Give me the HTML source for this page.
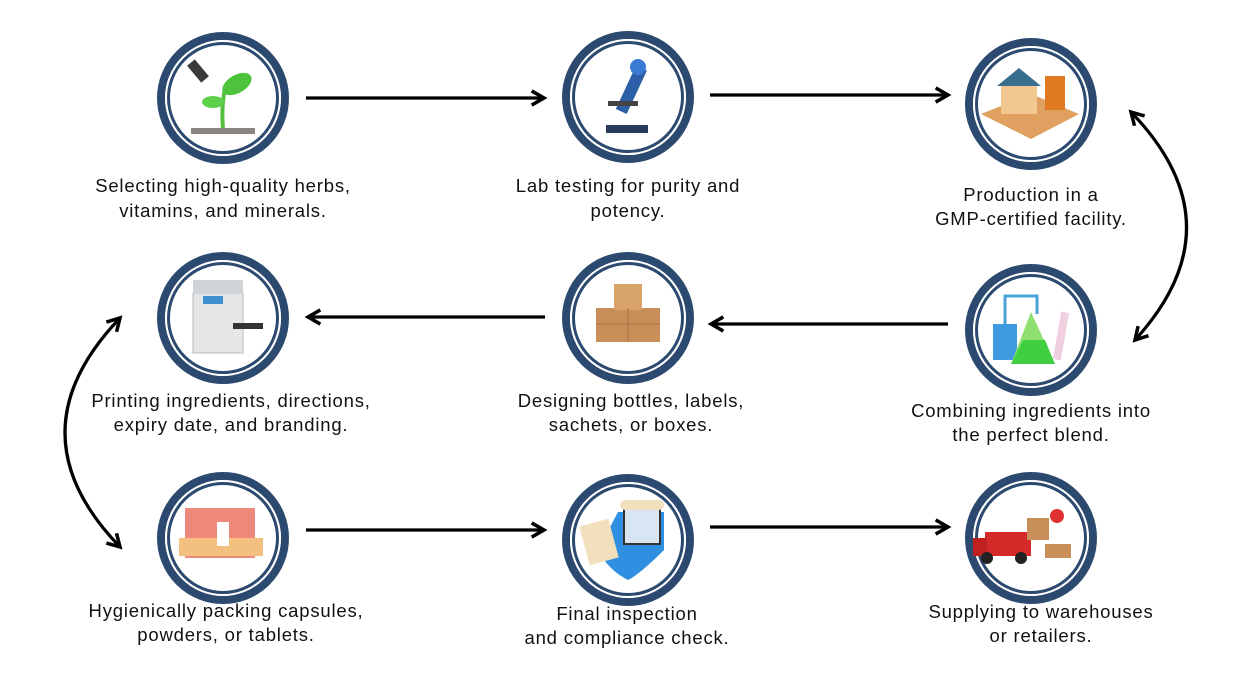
<!DOCTYPE html>
<html><head><meta charset="utf-8"><style>
html,body{margin:0;padding:0;background:#fff;width:1260px;height:680px;overflow:hidden}
svg text{font-family:"Liberation Sans",sans-serif;font-size:18.5px;letter-spacing:0.8px;fill:#111;text-anchor:middle}
</style></head><body>
<svg width="1260" height="680" viewBox="0 0 1260 680" xmlns="http://www.w3.org/2000/svg">
<defs>
<g id="ring">
<circle r="62" fill="none" stroke="#2c4a70" stroke-width="8"/>
<circle r="57" fill="none" stroke="#fff" stroke-width="2"/>
<circle r="54.5" fill="#fff" stroke="#2c4a70" stroke-width="3"/>
</g>
<marker id="ah" viewBox="0 0 10 10" refX="8" refY="5" markerWidth="5.5" markerHeight="5.5" orient="auto-start-reverse">
<path d="M1,1 L8,5 L1,9" fill="none" stroke="#000" stroke-width="2"/>
</marker>
</defs>
<g stroke="#000" stroke-width="3.2" fill="none" marker-end="url(#ah)">
<line x1="306" y1="98" x2="544" y2="98"/>
<line x1="710" y1="95" x2="948" y2="95"/>
<line x1="948" y1="324" x2="711" y2="324"/>
<line x1="545" y1="317" x2="308" y2="317"/>
<line x1="306" y1="530" x2="544" y2="530"/>
<line x1="710" y1="527" x2="948" y2="527"/>
<path d="M1131,112 Q1240,225 1135,340" marker-start="url(#ah)"/>
<path d="M120,318 Q10,433 120,547" marker-start="url(#ah)"/>
</g>
<g transform="translate(223,98)"><use href="#ring"/>
<rect x="-32" y="30" width="64" height="6" fill="#8a8580"/><path d="M0,30 Q-2,10 2,-10" stroke="#55c040" stroke-width="4" fill="none"/>
<ellipse cx="14" cy="-14" rx="16" ry="9" fill="#4cc33a" transform="rotate(-30 14 -14)"/><ellipse cx="-10" cy="4" rx="11" ry="6" fill="#5fd04a"/><rect x="-30" y="-38" width="10" height="22" fill="#3a3a3a" transform="rotate(-40 -25 -27)"/></g>
<g transform="translate(628,97)"><use href="#ring"/>
<rect x="-22" y="28" width="42" height="8" fill="#2a3a5a"/><rect x="-6" y="-32" width="12" height="48" fill="#2d5fa8" transform="rotate(25)"/><circle cx="10" cy="-30" r="8" fill="#3a7bd5"/><rect x="-20" y="4" width="30" height="5" fill="#444"/></g>
<g transform="translate(1031,104)"><use href="#ring"/>
<path d="M-50,10 L0,-10 L48,10 L0,35 Z" fill="#e0a060"/><rect x="-30" y="-18" width="36" height="28" fill="#f0c890"/><path d="M-34,-18 L-12,-36 L10,-18 Z" fill="#3a6e8f"/><rect x="14" y="-28" width="20" height="34" fill="#e07a20"/></g>
<g transform="translate(223,318)"><use href="#ring"/>
<rect x="-30" y="-25" width="50" height="60" fill="#e6e6e6" stroke="#bbb"/><rect x="-30" y="-38" width="50" height="14" fill="#cfd4d8"/><rect x="-20" y="-22" width="20" height="8" fill="#3d8fd0"/><rect x="10" y="5" width="30" height="6" fill="#333"/></g>
<g transform="translate(628,318)"><use href="#ring"/>
<rect x="-32" y="-10" width="64" height="34" fill="#c89058"/><rect x="-14" y="-34" width="28" height="26" fill="#d8a46a"/><line x1="-32" y1="6" x2="32" y2="6" stroke="#a67040"/><line x1="0" y1="-10" x2="0" y2="24" stroke="#a67040"/></g>
<g transform="translate(1031,330)"><use href="#ring"/>
<rect x="-38" y="-6" width="24" height="36" fill="#3f9be0"/><path d="M0,-18 L-20,34 L24,34 Z" fill="#8fe070"/><path d="M-8,10 L-20,34 L24,34 L14,10 Z" fill="#3fcf40"/><rect x="26" y="-18" width="8" height="48" fill="#f0d0e0" transform="rotate(10 30 6)"/><path d="M-26,-6 V-34 H-10 V-34 H6 V-16" stroke="#4aa0d8" stroke-width="3" fill="none"/></g>
<g transform="translate(223,538)"><use href="#ring"/>
<rect x="-38" y="-30" width="70" height="50" fill="#e86a5a" opacity=".8"/><rect x="-44" y="0" width="84" height="18" fill="#f3c080"/><rect x="-6" y="-16" width="12" height="24" fill="#fff"/></g>
<g transform="translate(628,540)"><use href="#ring"/>
<path d="M-10,-28 L36,-28 L36,10 Q12,34 0,40 Q-20,30 -30,10 Z" fill="#2f8fe0"/><rect x="-4" y="-36" width="36" height="40" fill="#d8e6f4" stroke="#333" stroke-width="2"/><rect x="-44" y="-18" width="30" height="40" fill="#f2dfbc" transform="rotate(-15 -29 2)"/><rect x="-8" y="-40" width="44" height="10" rx="5" fill="#f2dfbc"/></g>
<g transform="translate(1031,538)"><use href="#ring"/>
<rect x="-46" y="-6" width="46" height="24" fill="#d42a2a"/><rect x="-58" y="0" width="14" height="18" fill="#c02020"/><circle cx="-44" cy="20" r="6" fill="#222"/><circle cx="-10" cy="20" r="6" fill="#222"/><rect x="-4" y="-20" width="22" height="22" fill="#c89058"/><rect x="14" y="6" width="26" height="14" fill="#c89058"/><circle cx="26" cy="-22" r="7" fill="#e03030"/></g>
<text x="223" y="192">Selecting high-quality herbs,</text><text x="223" y="217">vitamins, and minerals.</text>
<text x="628" y="192">Lab testing for purity and</text><text x="628" y="217">potency.</text>
<text x="1031" y="201">Production in a</text><text x="1031" y="225">GMP-certified facility.</text>
<text x="231" y="407">Printing ingredients, directions,</text><text x="231" y="431">expiry date, and branding.</text>
<text x="631" y="407">Designing bottles, labels,</text><text x="631" y="431">sachets, or boxes.</text>
<text x="1031" y="417">Combining ingredients into</text><text x="1031" y="441">the perfect blend.</text>
<text x="226" y="617">Hygienically packing capsules,</text><text x="226" y="641">powders, or tablets.</text>
<text x="627" y="620">Final inspection</text><text x="627" y="644">and compliance check.</text>
<text x="1041" y="618">Supplying to warehouses</text><text x="1041" y="642">or retailers.</text>
</svg>
</body></html>
